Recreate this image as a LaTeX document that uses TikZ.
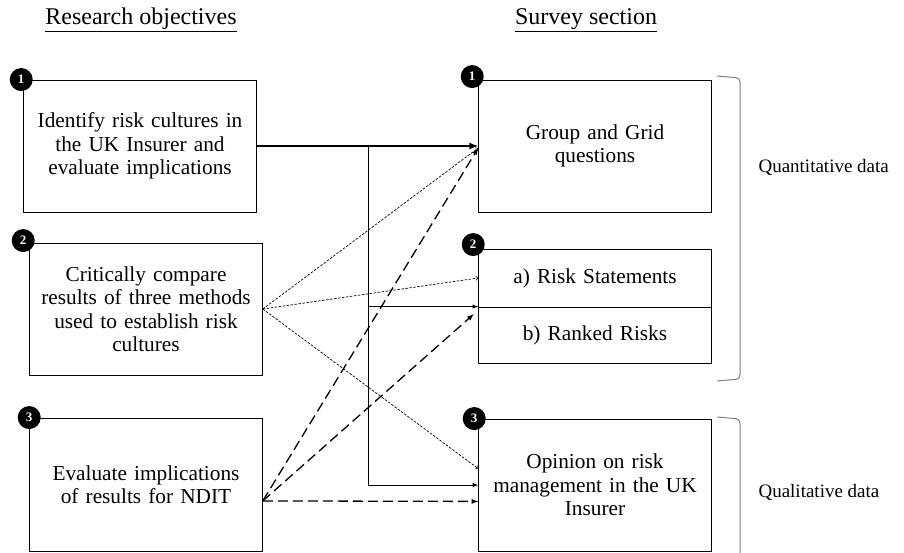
\documentclass[tikz,border=0pt]{standalone}
\usepackage{fontspec}
\setmainfont{Liberation Serif}
\usepackage{tikz}
\usetikzlibrary{positioning}

\tikzset{
  objbox/.style={draw, line width=0.9pt, minimum width=232pt, text width=226pt, align=center, font=\fontsize{21.3}{23.5}\selectfont},
  numdot/.style={circle, fill=black, text=white, inner sep=0pt, minimum size=23pt, font=\fontsize{13}{13}\selectfont\bfseries},
  dotarrow/.style={->, line width=0.7pt, dash pattern=on 2.5pt off 1.5pt},
  dasharrow/.style={-latex, line width=1.3pt, dash pattern=on 10pt off 5pt},
  solidarrow/.style={-latex, line width=0.9pt},
  bracket/.style={gray, line width=1pt, rounded corners=4pt}
}

\begin{document}
\begin{tikzpicture}[x=1pt, y=-1pt]
\useasboundingbox (0,0) rectangle (904,552);

\node (objectives heading) at (141,20) {\fontsize{24}{24}\selectfont\underline{Research objectives}};
\node (survey heading) at (586,20) {\fontsize{24}{24}\selectfont\underline{Survey section}};

% research objectives
\node[objbox, minimum height=132pt] (objective one) at (140,146) {Identify risk cultures in\\ the UK Insurer and\\ evaluate implications};
\node[objbox, minimum height=132pt] (objective two) at (146,309) {Critically compare\\ results of three methods\\ used to establish risk\\ cultures};
\node[objbox, minimum height=133pt] (objective three) at (146,484.5) {Evaluate implications\\ of results for NDIT};

% survey sections
\node[objbox, minimum height=132pt] (group grid) at (595,146) {Group and Grid\\ questions};
\node[objbox, minimum height=58pt] (risk statements) at (595,278) {a) Risk Statements};
\node[objbox, minimum height=56pt] (ranked risks) at (595,335) {b) Ranked Risks};
\node[objbox, minimum height=132pt] (opinion) at (595,485) {Opinion on risk\\ management in the UK\\ Insurer};

\node[numdot] (dot obj one) at ([xshift=-2pt]objective one.north west) {1};
\node[numdot] (dot obj two) at ([xshift=-6pt, yshift=2pt]objective two.north west) {2};
\node[numdot] (dot obj three) at (objective three.north west) {3};
\node[numdot] (dot sec one) at ([xshift=-6pt, yshift=3pt]group grid.north west) {1};
\node[numdot] (dot sec two) at ([xshift=-5pt, yshift=4pt]risk statements.north west) {2};
\node[numdot] (dot sec three) at ([xshift=-4pt]opinion.north west) {3};

% objective 1
\draw[-latex, line width=2pt] (objective one.east) -- (group grid.west);
\coordinate (branch) at (368,146);
\draw[solidarrow] (branch) |- (ranked risks.north west);
\draw[solidarrow] (branch) |- (opinion.west);

% objective 2
\draw[dotarrow] (objective two.east) -- ([yshift=-2pt]group grid.west);
\draw[dotarrow] (objective two.east) -- (risk statements.west);
\draw[dotarrow] (objective two.east) -- (opinion.172);

% objective 3
\draw[dasharrow] (objective three.-8) -- ([yshift=-2pt]group grid.west);
\draw[dasharrow, shorten >=6pt] (objective three.-8) -- (ranked risks.168);
\draw[dasharrow] (objective three.-8) -- (opinion.188);

% data type brackets
\draw[bracket] (717,76) -- (740,78) -- (740,379) -- (717,381);
\draw[bracket] (717,417) -- (740,419) -- (740,553);
\node[anchor=west, font=\fontsize{19}{19}\selectfont] (quantitative) at (755,167) {Quantitative data};
\node[anchor=west, font=\fontsize{19}{19}\selectfont] (qualitative) at (755,492) {Qualitative data};
\end{tikzpicture}
\end{document}
